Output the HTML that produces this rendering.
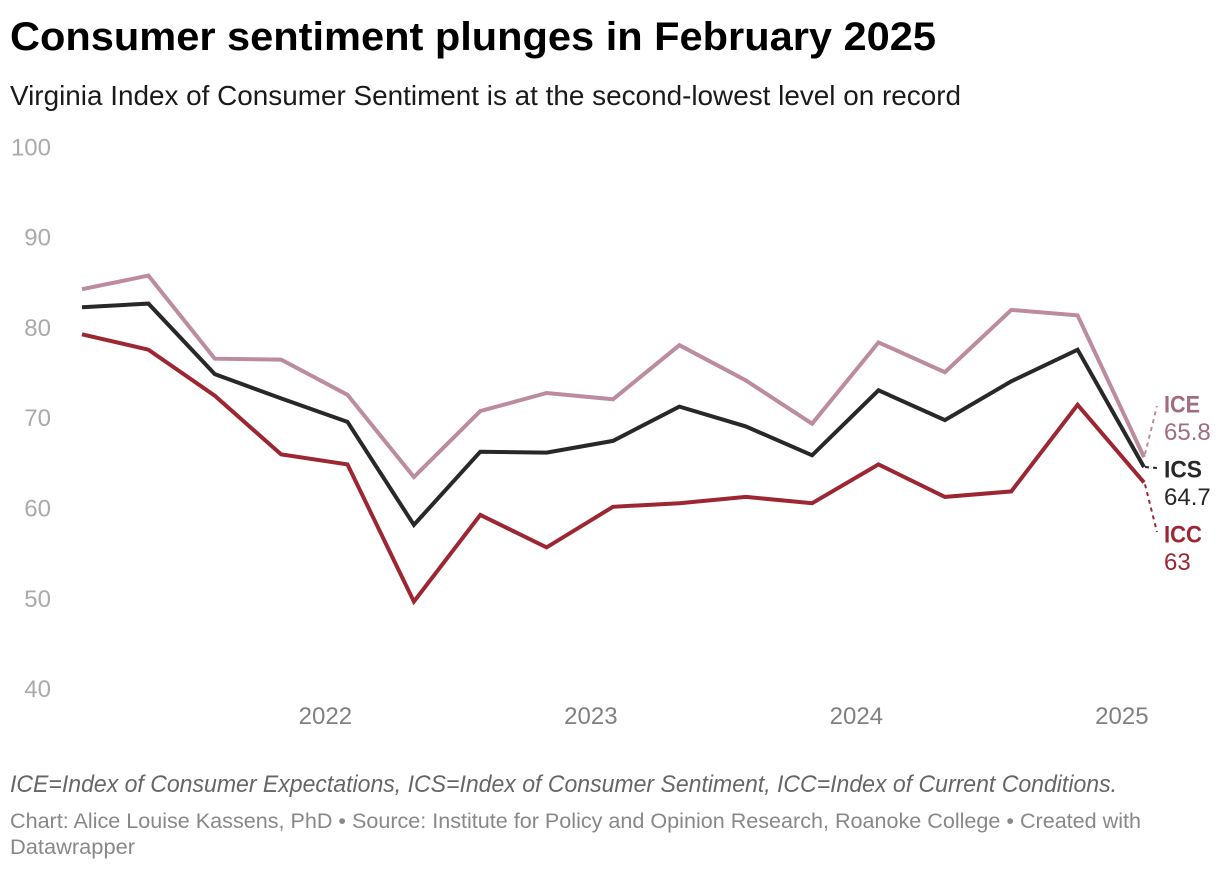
<!DOCTYPE html>
<html>
<head>
<meta charset="utf-8">
<title>Consumer sentiment plunges in February 2025</title>
<style>
html,body{margin:0;padding:0;background:#fff;width:1220px;height:870px;overflow:hidden}
svg{display:block;font-family:"Liberation Sans",sans-serif}
</style>
</head>
<body>
<svg id="chart" xmlns="http://www.w3.org/2000/svg" width="1220" height="870" viewBox="0 0 1220 870">
  <text x="10" y="50" font-size="40" font-weight="700" fill="#000" textLength="926" lengthAdjust="spacingAndGlyphs">Consumer sentiment plunges in February 2025</text>
  <text x="10" y="105" font-size="28" fill="#1a1a1a" textLength="951" lengthAdjust="spacingAndGlyphs">Virginia Index of Consumer Sentiment is at the second-lowest level on record</text>
  <g id="y-axis"></g>
  <g id="x-axis"></g>
  <g id="series"></g>
  <g id="labels"></g>
  <text x="10" y="792" font-size="24" font-style="italic" fill="#666" textLength="1107" lengthAdjust="spacingAndGlyphs">ICE=Index of Consumer Expectations, ICS=Index of Consumer Sentiment, ICC=Index of Current Conditions.</text>
  <text x="10" y="828" font-size="21.5" fill="#888" textLength="1131" lengthAdjust="spacingAndGlyphs">Chart: Alice Louise Kassens, PhD • Source: Institute for Policy and Opinion Research, Roanoke College • Created with</text>
  <text x="10" y="854" font-size="21.5" fill="#888" textLength="125" lengthAdjust="spacingAndGlyphs">Datawrapper</text>
</svg>
<script>
var periods = ["2021-02","2021-05","2021-08","2021-11","2022-02","2022-05","2022-08","2022-11","2023-02","2023-05","2023-08","2023-11","2024-02","2024-05","2024-08","2024-11","2025-02"];
var iceValues = [84.4,85.9,76.7,76.6,72.7,63.6,70.9,72.9,72.2,78.2,74.3,69.5,78.5,75.2,82.1,81.5,65.8];
var icsValues = [82.4,82.8,75.0,72.3,69.7,58.3,66.4,66.3,67.6,71.4,69.2,66.0,73.2,69.9,74.2,77.7,64.7];
var iccValues = [79.4,77.7,72.6,66.1,65.0,49.8,59.4,55.8,60.3,60.7,61.4,60.7,65.0,61.4,62.0,71.6,63];
var yTicks = [40,50,60,70,80,90,100];
var xTickYears = [2022,2023,2024,2025];

var NS = "http://www.w3.org/2000/svg";
function xScale(t){ return 82 + (t - (2021 + 1 / 12)) * 265.5; }
function yScale(v){ return 509.5 - (v - 60) * 9.03; }
function periodToTime(p){ var s = p.split("-"); return +s[0] + (+s[1] - 1) / 12; }
function make(tag, parent, attrs, txt){
  var el = document.createElementNS(NS, tag);
  for (var k in attrs) el.setAttribute(k, attrs[k]);
  if (txt !== undefined) el.textContent = txt;
  parent.appendChild(el);
  return el;
}

var yAxis = document.getElementById("y-axis");
yTicks.forEach(function(v){
  var t = make("text", yAxis, {x:51, y:yScale(v) + 7, "font-size":24, fill:"#aaaaaa", "text-anchor":"end"}, String(v));
  
  
});

var xAxis = document.getElementById("x-axis");
xTickYears.forEach(function(y){
  var t = make("text", xAxis, {x:xScale(y), y:724, "font-size":24, fill:"#808080", "text-anchor":"middle"}, String(y));
  
  
});

function pointsFor(values){
  return values.map(function(v,i){
    return xScale(periodToTime(periods[i])).toFixed(1) + "," + yScale(v).toFixed(1);
  }).join(" ");
}
var seriesGroup = document.getElementById("series");

var iceLine = make("polyline", seriesGroup, {points:pointsFor(iceValues), fill:"none", stroke:"#bc8b9f", "stroke-width":4, "stroke-linejoin":"miter"});



var icsLine = make("polyline", seriesGroup, {points:pointsFor(icsValues), fill:"none", stroke:"#282828", "stroke-width":4, "stroke-linejoin":"miter"});



var iccLine = make("polyline", seriesGroup, {points:pointsFor(iccValues), fill:"none", stroke:"#9c2632", "stroke-width":4, "stroke-linejoin":"miter"});



var labelGroup = document.getElementById("labels");
function lastX(){ return xScale(periodToTime(periods[periods.length - 1])); }

var iceConn = make("line", labelGroup, {x1:lastX() + 1, y1:yScale(iceValues[16]) - 3, x2:1157, y2:406, stroke:"#bc8b9f", "stroke-width":2, "stroke-dasharray":"4 4"});


var iceName = make("text", labelGroup, {x:1164, y:412.5, "font-size":24, "font-weight":700, fill:"#a26c80", textLength:36, lengthAdjust:"spacingAndGlyphs"}, "ICE");


var iceVal = make("text", labelGroup, {x:1164, y:440, "font-size":24, fill:"#a26c80"}, String(iceValues[16]));



var icsConn = make("line", labelGroup, {x1:lastX() + 1, y1:yScale(icsValues[16]), x2:1157, y2:468, stroke:"#282828", "stroke-width":2, "stroke-dasharray":"4 4"});


var icsName = make("text", labelGroup, {x:1164, y:477.5, "font-size":24, "font-weight":700, fill:"#282828", textLength:38, lengthAdjust:"spacingAndGlyphs"}, "ICS");


var icsVal = make("text", labelGroup, {x:1164, y:505, "font-size":24, fill:"#282828"}, String(icsValues[16]));



var iccConn = make("line", labelGroup, {x1:lastX() + 1, y1:yScale(iccValues[16]) + 2, x2:1157, y2:532, stroke:"#9c2632", "stroke-width":2, "stroke-dasharray":"4 4"});


var iccName = make("text", labelGroup, {x:1164, y:542.5, "font-size":24, "font-weight":700, fill:"#9c2632", textLength:38, lengthAdjust:"spacingAndGlyphs"}, "ICC");


var iccVal = make("text", labelGroup, {x:1164, y:570, "font-size":24, fill:"#9c2632"}, String(iccValues[16]));


</script>
</body>
</html>
